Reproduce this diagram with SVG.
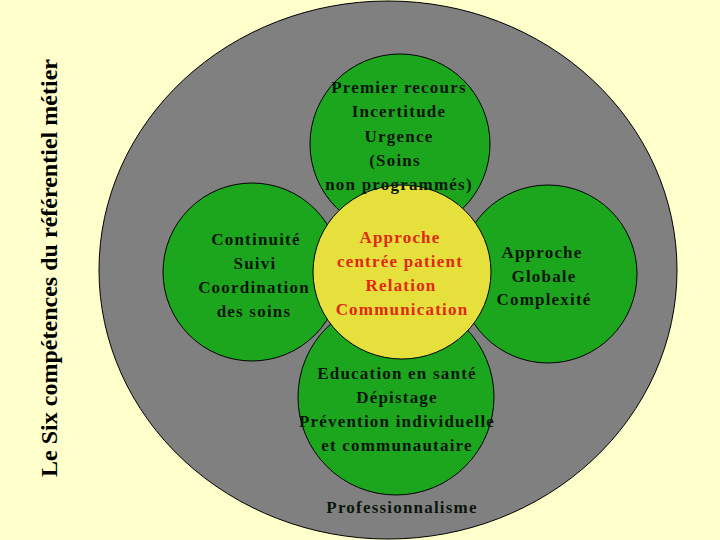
<svg xmlns="http://www.w3.org/2000/svg" width="720" height="540" viewBox="0 0 720 540">
  <style>
    .bg { fill: #FFFFCC; }
    .outer { fill: #808080; stroke: #000; stroke-width: 1; }
    .green { fill: #1CA61E; stroke: #000; stroke-width: 1; }
    .yellow { fill: #E5E03C; stroke: #000; stroke-width: 1; }
    text { font-family: "Liberation Serif", "Times New Roman", serif; font-weight: bold; font-size: 17px; text-anchor: middle; letter-spacing: 1.2px; }
    .dark { fill: #0A160A; }
    .red { fill: #E02812; }
    .title { font-size: 24px; fill: #000; letter-spacing: 0; }
  </style>
  <rect class="bg" x="0" y="0" width="720" height="540"/>
  <g id="outer">
    <ellipse class="outer" cx="388" cy="270" rx="289" ry="269"/>
    <text class="dark" x="402" y="513">Professionnalisme</text>
  </g>
  <g id="title">
    <text class="title" transform="translate(57,268) rotate(-90)" textLength="418" lengthAdjust="spacing">Le Six compétences du référentiel métier</text>
  </g>
  <g id="top">
    <circle class="green" cx="400" cy="144" r="90"/>
  </g>
  <g id="left">
    <circle class="green" cx="252" cy="272" r="89"/>
  </g>
  <g id="right">
    <circle class="green" cx="548" cy="274" r="89"/>
  </g>
  <g id="bottom">
    <circle class="green" cx="396" cy="397" r="98"/>
  </g>
  <g id="center">
    <ellipse class="yellow" cx="402" cy="272" rx="89" ry="87"/>
  </g>
  <g id="labels">
    <text class="dark" x="399" y="93">Premier recours</text>
    <text class="dark" x="399" y="117">Incertitude</text>
    <text class="dark" x="399" y="142">Urgence</text>
    <text class="dark" x="395" y="166">(Soins</text>
    <text class="dark" x="399" y="190">non programmés)</text>
    <text class="dark" x="256" y="245">Continuité</text>
    <text class="dark" x="255" y="269">Suivi</text>
    <text class="dark" x="254" y="293">Coordination</text>
    <text class="dark" x="254" y="317">des soins</text>
    <text class="red" x="400" y="243">Approche</text>
    <text class="red" x="400" y="267">centrée patient</text>
    <text class="red" x="401" y="291">Relation</text>
    <text class="red" x="402" y="315">Communication</text>
    <text class="dark" x="542" y="258">Approche</text>
    <text class="dark" x="544" y="282">Globale</text>
    <text class="dark" x="544" y="305">Complexité</text>
    <text class="dark" x="397" y="379">Education en santé</text>
    <text class="dark" x="397" y="403">Dépistage</text>
    <text class="dark" x="397" y="427">Prévention individuelle</text>
    <text class="dark" x="397" y="451">et communautaire</text>
  </g>
</svg>
